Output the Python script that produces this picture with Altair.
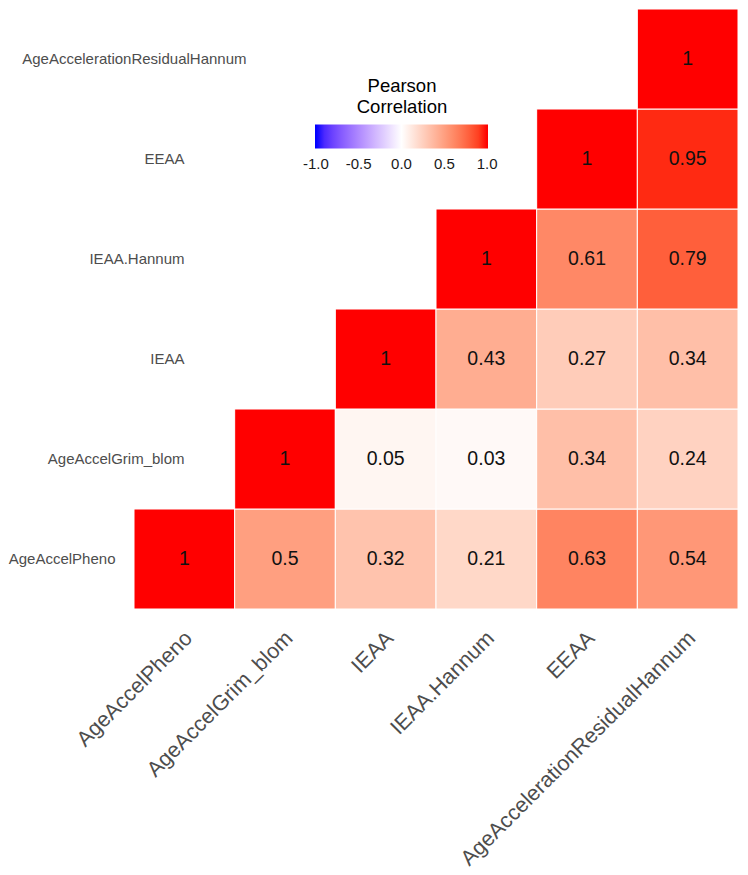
import altair as alt
import pandas as pd

variables = ["AgeAccelPheno", "AgeAccelGrim_blom", "IEAA", "IEAA.Hannum", "EEAA",
             "AgeAccelerationResidualHannum"]

# correlation values per row (row variable vs itself and the variables to its right)
row_pheno = [1, 0.5, 0.32, 0.21, 0.63, 0.54]
row_grim = [1, 0.05, 0.03, 0.34, 0.24]
row_ieaa = [1, 0.43, 0.27, 0.34]
row_ieaa_hannum = [1, 0.61, 0.79]
row_eeaa = [1, 0.95]
row_aarh = [1]

rows = [row_pheno, row_grim, row_ieaa, row_ieaa_hannum, row_eeaa, row_aarh]
legend_values = [-1.0, -0.5, 0.0, 0.5, 1.0]

records = []
for i, (rname, vals) in enumerate(zip(variables, rows)):
    for k, v in enumerate(vals):
        records.append({"row": rname, "col": variables[i + k], "r": v})
df = pd.DataFrame(records)

FONT = "Liberation Sans"
y_order = list(reversed(variables))

x_enc = alt.X(
    "col:N",
    scale=alt.Scale(domain=variables),
    axis=alt.Axis(
        title=None, domain=False, ticks=False, tickSize=0, grid=False,
        labelAngle=-45, labelAlign="right", labelBaseline="top",
        labelFontSize=21.5, labelFont=FONT, labelColor="#4d4d4d",
        labelPadding=18, labelOffset=-3, labelLimit=0, labelOverlap=False,
    ),
)
y_enc = alt.Y(
    "row:N",
    scale=alt.Scale(domain=y_order),
    axis=alt.Axis(
        title=None, domain=False, ticks=False, tickSize=0, grid=False,
        labelAlign="right", labelBaseline="middle",
        labelFontSize=15, labelFont=FONT, labelColor="#4d4d4d",
        labelLimit=0, labelOverlap=False,
        labelPadding={
            "condition": [
                {"test": "datum.value === 'AgeAccelPheno'", "value": 19},
                {"test": "datum.value === 'AgeAccelerationResidualHannum'", "value": -112},
            ],
            "value": -50,
        },
    ),
)

base = alt.Chart(df).encode(x=x_enc, y=y_enc)

# tiny extension past +-1 so the legend's end labels are centred on the gradient ends
rects = base.mark_rect(stroke="white", strokeWidth=1).encode(
    color=alt.Color(
        "r:Q",
        scale=alt.Scale(domain=[-1.01, -1, 0, 1, 1.01],
                        range=["blue", "blue", "white", "red", "red"],
                        interpolate="lab"),
        legend=alt.Legend(
            title=["Pearson", "Correlation"],
            orient="none", legendX=181, legendY=68,
            direction="horizontal", gradientLength=173, gradientThickness=24,
            gradientStrokeWidth=0,
            titleFontSize=18.5, titleFont=FONT, titleColor="#000000",
            titleFontWeight="normal", titleAnchor="middle", titleAlign="center",
            titleLineHeight=21, titlePadding=8,
            values=legend_values,
            labelExpr="datum.value < 0 ? '-' + format(-datum.value, '.1f') : format(datum.value, '.1f')",
            labelFontSize=15, labelFont=FONT, labelColor="#1a1a1a",
            labelOffset=8, labelOverlap=False,
        ),
    )
)

text = base.mark_text(fontSize=19.5, font=FONT, color="#111111").encode(
    text=alt.Text("r:Q")
)

chart = (
    alt.layer(rects, text)
    .properties(width=604, height=600, padding=0)
    .configure(font=FONT)
    .configure_view(strokeWidth=0, stroke="transparent")
)

chart.save("out.html", embed_options={"renderer": "svg", "actions": False})
